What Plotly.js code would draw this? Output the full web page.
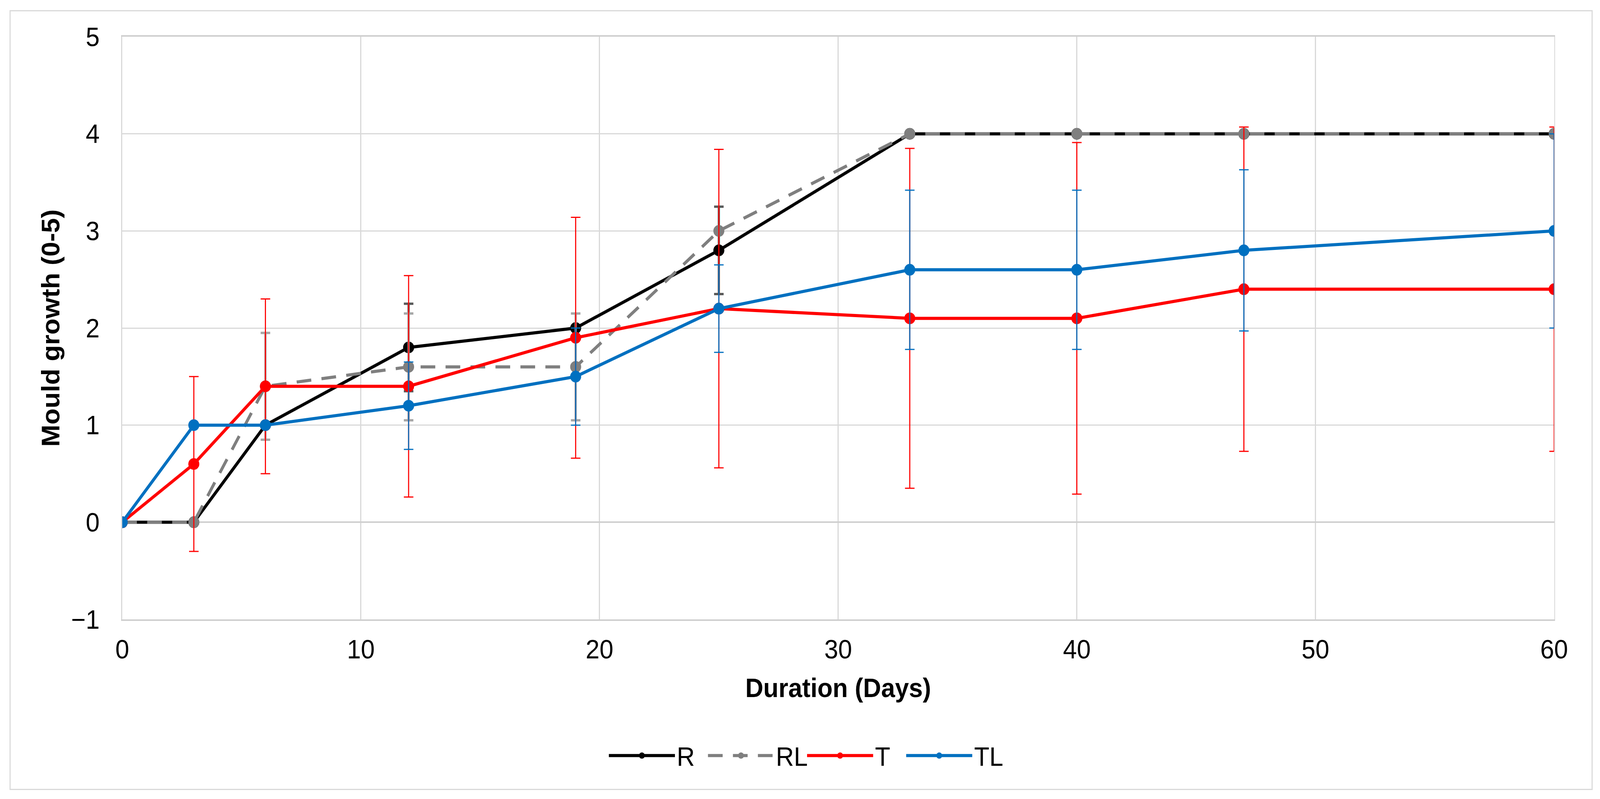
<!DOCTYPE html>
<html>
<head>
<meta charset="utf-8">
<script src="https://cdn.plot.ly/plotly-3.0.1.min.js"></script>
<style>
  html, body { margin: 0; padding: 0; background: #fff; overflow: hidden; }
  #wrap { position: absolute; left: 0; top: 0; width: 4359px; height: 2046px; transform-origin: 0 0; }
  #myDiv { position: absolute; left: 0; top: 0; width: 4359px; height: 2046px; }
  #frame {
    position: absolute; left: 26px; top: 26px; width: 4313px; height: 1997px;
    border: 3px solid #d9d9d9; box-sizing: border-box; pointer-events: none;
  }
</style>
</head>
<body>
<div id="wrap">
  <div id="myDiv"></div>
  <div id="frame"></div>
</div>
<script>
// Días de muestreo (eje x)
var days = [0, 3, 6, 12, 19, 25, 33, 40, 47, 60];

// Crecimiento de moho (0-5) por serie
var rVals  = [0, 0, 1.0, 1.8, 2.0, 2.8, 4, 4, 4, 4];
var rlVals = [0, 0, 1.4, 1.6, 1.6, 3.0, 4, 4, 4, 4];
var tVals  = [0, 0.6, 1.4, 1.4, 1.9, 2.2, 2.1, 2.1, 2.4, 2.4];
var tlVals = [0, 1.0, 1.0, 1.2, 1.5, 2.2, 2.6, 2.6, 2.8, 3.0];

// Barras de error (desviación) por serie
var rErr  = [0, 0, 0, 0.45, 0, 0.45, 0, 0, 0, 0];
var rlErr = [0, 0, 0.55, 0.55, 0.55, 0, 0, 0, 0, 0];
var tErr  = [0, 0.9, 0.9, 1.14, 1.24, 1.64, 1.75, 1.81, 1.67, 1.67];
var tlErr = [0, 0, 0, 0.45, 0.5, 0.45, 0.82, 0.82, 0.83, 1.0];

var seriesNames = ["R", "RL", "T", "TL"];

// La ventana real puede ser más pequeña: se escala el lienzo completo de 4359x2046
var sx = window.innerWidth / 4359;
var sy = window.innerHeight / 2046;
document.getElementById("wrap").style.transform = "scale(" + sx + "," + sy + ")";

function makeTrace(y, err, name, color, errColor, errThick, dash) {
  return {
    x: days, y: y, name: name,
    type: "scatter", mode: "lines+markers",
    line: { color: color, width: 8, dash: dash },
    marker: { color: color, size: 30 },
    error_y: {
      type: "data", array: err, visible: true,
      color: errColor, thickness: errThick, width: 13,
    },
  };
}

var data = [
  makeTrace(rVals, rErr, seriesNames[0], "#000000", "#595959", 6, "solid"),
  makeTrace(rlVals, rlErr, seriesNames[1], "#7f7f7f", "#a6a6a6", 6, "40px,28px"),
  makeTrace(tVals, tErr, seriesNames[2], "#ff0000", "#ff0000", 3, "solid"),
  makeTrace(tlVals, tlErr, seriesNames[3], "#0070c0", "#0070c0", 3, "solid"),
];

var layout = {
  width: 4359,
  height: 2046,
  paper_bgcolor: "#ffffff",
  plot_bgcolor: "#ffffff",
  font: { family: "Liberation Sans, Arial, sans-serif", size: 68, color: "#000000" },
  margin: { l: 333, r: 125, t: 94, b: 460, autoexpand: false },
  showlegend: true,
  legend: {
    orientation: "h",
    x: 0.477, xanchor: "center",
    y: -0.234, yanchor: "middle",
    font: { size: 68 },
    itemwidth: 180,
    entrywidth: 75,
  },
  xaxis: {
    range: [0, 60],
    dtick: 10,
    showgrid: true,
    gridcolor: "#d9d9d9",
    gridwidth: 3,
    zeroline: false,
    showline: true,
    mirror: true,
    linecolor: "#cfcfcf",
    linewidth: 4,
    ticks: "outside",
    ticklen: 14,
    tickcolor: "rgba(0,0,0,0)",
    automargin: false,
    title: { text: "<b>Duration (Days)</b>", font: { size: 68 }, standoff: 40 },
  },
  yaxis: {
    range: [-1, 5],
    dtick: 1,
    showgrid: true,
    gridcolor: "#d9d9d9",
    gridwidth: 3,
    zeroline: true,
    zerolinecolor: "#cfcfcf",
    zerolinewidth: 4,
    showline: true,
    mirror: true,
    linecolor: "#d9d9d9",
    linewidth: 3,
    ticks: "outside",
    ticklen: 45,
    tickcolor: "rgba(0,0,0,0)",
    automargin: false,
    title: { text: "<b>Mould growth (0-5)</b>", font: { size: 68 }, standoff: 10 },
  },
};

Plotly.newPlot("myDiv", data, layout, { staticPlot: true });
</script>
</body>
</html>
